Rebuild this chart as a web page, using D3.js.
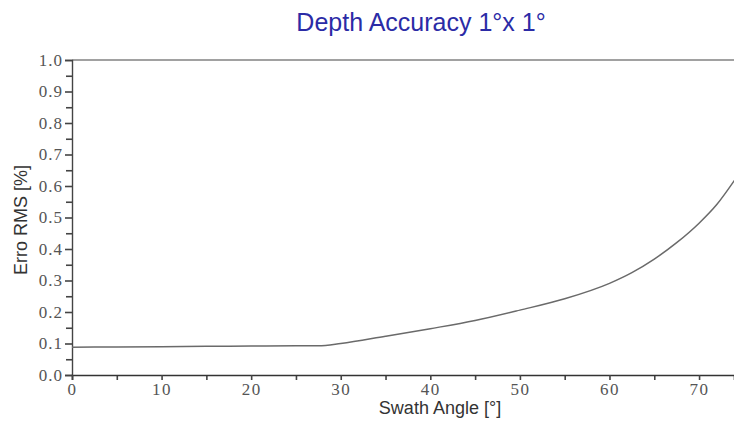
<!DOCTYPE html>
<html>
<head>
<meta charset="utf-8">
<script src="https://cdn.jsdelivr.net/npm/d3@7"></script>
<style>
  body { margin: 0; background: #ffffff; }
</style>
</head>
<body>
<script>
// curve
var angles = [0, 5, 10, 15, 20, 25, 27.5, 30, 35, 40, 45, 50, 55, 60, 62.5, 65, 67.5, 70, 72, 74];
var errors = [0.088, 0.089, 0.090, 0.091, 0.092, 0.093, 0.093, 0.100, 0.123, 0.147, 0.173, 0.206, 0.242, 0.291, 0.325, 0.368, 0.420, 0.482, 0.542, 0.620];
var xTicks = [0, 10, 20, 30, 40, 50, 60, 70];
var yTicks = [0, 0.1, 0.2, 0.3, 0.4, 0.5, 0.6, 0.7, 0.8, 0.9, 1.0];

var W = 734, H = 421;
var margin = {top: 60, right: 0, bottom: 46, left: 72};
var width = W - margin.left - margin.right,
    height = H - margin.top - margin.bottom;

var x = d3.scaleLinear().domain([0, 73.9]).range([0, width]);
var y = d3.scaleLinear().domain([0, 1]).range([height, 0]);

var svg = d3.select("body").append("svg")
    .attr("width", W)
    .attr("height", H);

svg.append("rect").attr("width", W).attr("height", H).attr("fill", "#ffffff");

svg.append("text")
    .attr("x", 421)
    .attr("y", 31)
    .attr("text-anchor", "middle")
    .attr("fill", "#2b2ba6")
    .style("font-family", "'Liberation Sans', Arial, sans-serif")
    .style("font-size", "25px")
    .text("Depth Accuracy 1°x 1°");

var g = svg.append("g")
    .attr("transform", "translate(" + margin.left + "," + margin.top + ")");

// top frame line
g.append("line")
    .attr("x1", 0).attr("x2", width)
    .attr("y1", 0).attr("y2", 0)
    .attr("stroke", "#444").attr("stroke-width", 1.2);

// minor ticks
g.append("g")
    .call(d3.axisLeft(y).tickValues(d3.range(0.05, 1, 0.1)).tickSize(6).tickFormat(""))
    .call(function(s) { s.select(".domain").remove(); })
    .selectAll("line").attr("stroke", "#444").attr("stroke-width", 1.6);

g.append("g")
    .attr("transform", "translate(0," + height + ")")
    .call(d3.axisBottom(x).tickValues(d3.range(5, 75, 10)).tickSize(5).tickFormat(""))
    .call(function(s) { s.select(".domain").remove(); })
    .selectAll("line").attr("stroke", "#444").attr("stroke-width", 1.6);

// y axis
var yAxis = g.append("g")
    .call(d3.axisLeft(y).tickValues(yTicks).tickSize(7).tickPadding(2).tickFormat(d3.format(".1f")));
yAxis.select(".domain").attr("stroke", "#444").attr("stroke-width", 1.4);
yAxis.selectAll("line").attr("stroke", "#444").attr("stroke-width", 1.6);
yAxis.selectAll("text")
    .attr("fill", "#555")
    .style("font-family", "'Liberation Serif', 'Times New Roman', serif")
    .style("font-size", "17px")
    .style("letter-spacing", "1px");

// x axis
var xAxis = g.append("g")
    .attr("transform", "translate(0," + height + ")")
    .call(d3.axisBottom(x).tickValues(xTicks).tickSize(5).tickPadding(3));
xAxis.select(".domain").attr("stroke", "#333").attr("stroke-width", 1.6);
xAxis.selectAll("line").attr("stroke", "#444").attr("stroke-width", 1.6);
xAxis.selectAll("text")
    .attr("fill", "#555")
    .style("font-family", "'Liberation Serif', 'Times New Roman', serif")
    .style("font-size", "17px")
    .style("letter-spacing", "1.5px");

// curve
var pts = angles.map(function(a, i) { return [a, errors[i]]; });
g.append("path")
    .datum(pts)
    .attr("fill", "none")
    .attr("stroke", "#6a6a6a")
    .attr("stroke-width", 1.5)
    .attr("d", d3.line()
        .x(function(d) { return x(d[0]); })
        .y(function(d) { return y(d[1]); })
        .curve(d3.curveMonotoneX));

// axis titles
svg.append("text")
    .attr("x", 440)
    .attr("y", 414)
    .attr("text-anchor", "middle")
    .attr("fill", "#333")
    .style("font-family", "'Liberation Sans', Arial, sans-serif")
    .style("font-size", "18px")
    .text("Swath Angle [°]");

svg.append("text")
    .attr("transform", "translate(27,220) rotate(-90)")
    .attr("text-anchor", "middle")
    .attr("fill", "#333")
    .style("font-family", "'Liberation Sans', Arial, sans-serif")
    .style("font-size", "18px")
    .text("Erro RMS [%]");
</script>
</body>
</html>
